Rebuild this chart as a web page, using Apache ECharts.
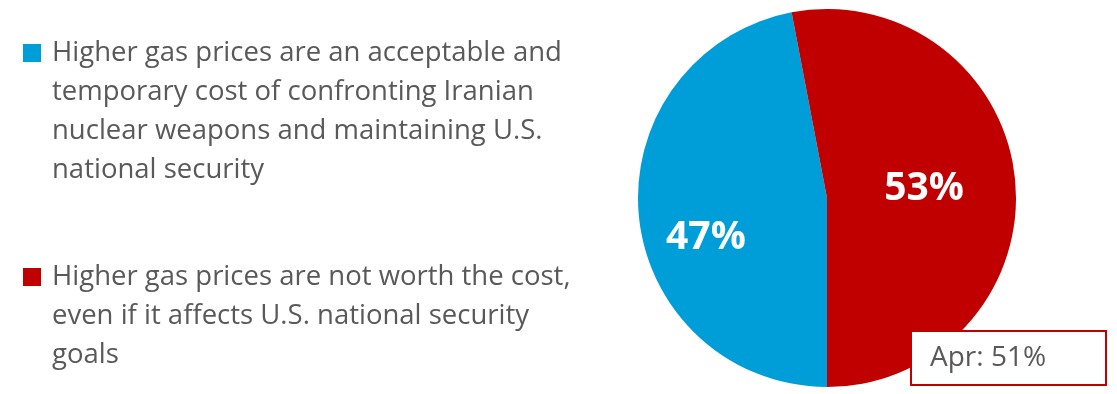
<!DOCTYPE html>
<html>
<head>
<meta charset="utf-8">
<script src="https://cdn.jsdelivr.net/npm/echarts@6/dist/echarts.min.js"></script>
<style>
html,body{margin:0;padding:0;background:#fff;}
#chart{width:1117px;height:394px;}
</style>
</head>
<body>
<div id="chart"></div>
<script>
// ---- data ----
var categoryLines = [
  ['Higher gas prices are an acceptable and', 'temporary cost of confronting Iranian', 'nuclear weapons and maintaining U.S.', 'national security'],
  ['Higher gas prices are not worth the cost,', 'even if it affects U.S. national security', 'goals']
];
var categories = categoryLines.map(function (l) { return l.join(' '); });
var values = [47, 53];
var colors = ['#009ED9', '#C00000'];
var aprLabel = 'Apr';
var aprValue = 51;

var chart = echarts.init(document.getElementById('chart'));
var FONT = '"Open Sans", "Liberation Sans", sans-serif';
var LH = 39;

var option = {
  animation: false,
  legend: {
    orient: 'vertical',
    left: 18,
    top: 39,
    padding: 0,
    itemWidth: 0,
    itemHeight: 0,
    itemGap: 79,
    icon: 'rect',
    selectedMode: false,
    data: categories,
    formatter: function (name) {
      var idx = categories.indexOf(name);
      var lines = categoryLines[idx];
      return lines.map(function (ln, i) {
        if (i === 0) return '{sq' + idx + '|}{sp|}{t|' + ln + '}';
        return '{ind|}{t|' + ln + '}';
      }).join('\n');
    },
    textStyle: {
      rich: {
        sq0: { backgroundColor: colors[0], width: 18, height: 18, lineHeight: LH },
        sq1: { backgroundColor: colors[1], width: 18, height: 18, lineHeight: LH },
        sp: { width: 11, lineHeight: LH },
        ind: { width: 29, lineHeight: LH },
        t: { fontFamily: FONT, fontSize: 27.5, color: '#595959', lineHeight: LH }
      }
    }
  },
  series: [{
    type: 'pie',
    center: [827, 198],
    radius: 189,
    startAngle: 270,
    clockwise: true,
    avoidLabelOverlap: false,
    label: {
      show: true,
      position: 'inside',
      formatter: function (p) { return p.value + '%'; },
      color: '#fff',
      fontFamily: FONT,
      fontWeight: 'bold',
      fontSize: 39
    },
    labelLine: { show: false },
    labelLayout: function (p) {
      if (p.dataIndex === 0) return { dx: -24, dy: 31 };
      return {};
    },
    emphasis: { disabled: true },
    data: categories.map(function (c, i) {
      return { name: c, value: values[i], itemStyle: { color: colors[i] } };
    })
  }],
  graphic: [
    {
      type: 'rect',
      z: 100,
      shape: { x: 911, y: 331, width: 195, height: 54 },
      style: { fill: '#fff', stroke: '#C00000', lineWidth: 2 }
    },
    {
      type: 'text',
      z: 101,
      x: 930,
      y: 358,
      style: {
        text: aprLabel + ': ' + aprValue + '%',
        fontFamily: FONT,
        fontSize: 28,
        fill: '#595959',
        verticalAlign: 'middle'
      }
    }
  ]
};
chart.setOption(option);
</script>
</body>
</html>
